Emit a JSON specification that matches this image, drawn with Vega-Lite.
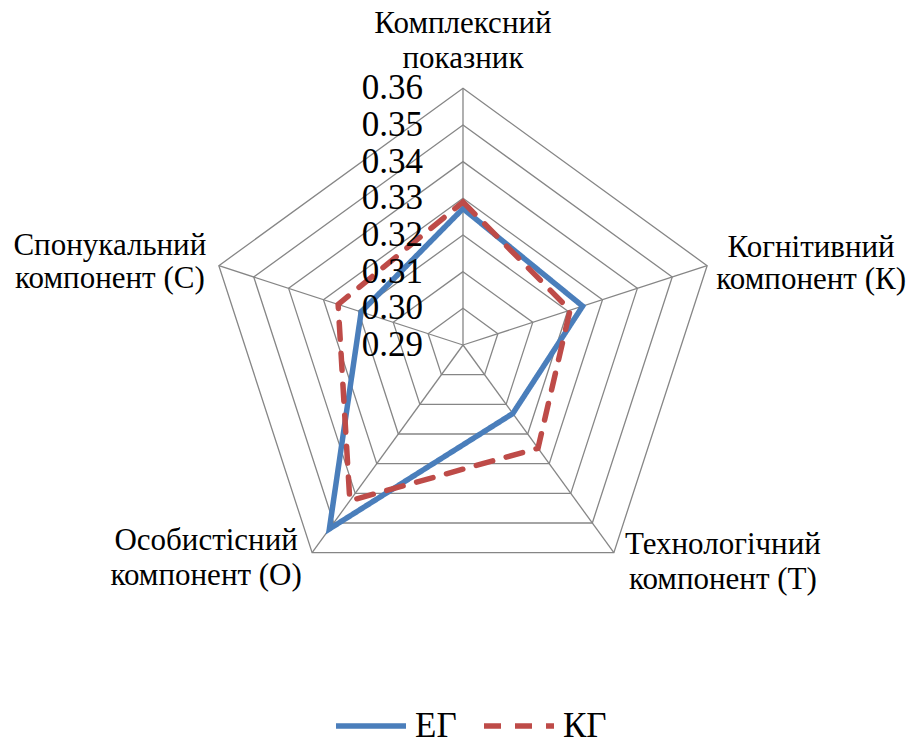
{
  "$schema": "https://vega.github.io/schema/vega-lite/v6.json",
  "width": 914,
  "height": 742,
  "autosize": {"type": "none"},
  "padding": 0,
  "background": "white",
  "config": {"view": {"stroke": null}, "font": "Liberation Serif"},
  "datasets": {
    "series": [
      {"group": "ЕГ", "k": 0, "axis": "Комплексний показник", "value": 0.3272},
      {"group": "ЕГ", "k": 1, "axis": "Когнітивний компонент (К)", "value": 0.3243},
      {"group": "ЕГ", "k": 2, "axis": "Технологічний компонент (Т)", "value": 0.3131},
      {"group": "ЕГ", "k": 3, "axis": "Особистісний компонент (О)", "value": 0.3520},
      {"group": "ЕГ", "k": 4, "axis": "Спонукальний компонент (С)", "value": 0.3192},
      {"group": "КГ", "k": 0, "axis": "Комплексний показник", "value": 0.3290},
      {"group": "КГ", "k": 1, "axis": "Когнітивний компонент (К)", "value": 0.3207},
      {"group": "КГ", "k": 2, "axis": "Технологічний компонент (Т)", "value": 0.3248},
      {"group": "КГ", "k": 3, "axis": "Особистісний компонент (О)", "value": 0.3425},
      {"group": "КГ", "k": 4, "axis": "Спонукальний компонент (С)", "value": 0.3258}
    ],
    "axes": [
      {"k": 0, "label": ["Комплексний", "показник"]},
      {"k": 1, "label": ["Когнітивний", "компонент (К)"]},
      {"k": 2, "label": ["Технологічний", "компонент (Т)"]},
      {"k": 3, "label": ["Особистісний", "компонент (О)"]},
      {"k": 4, "label": ["Спонукальний", "компонент (С)"]}
    ],
    "rings": [
      {"level": 0.30, "k": [0, 1, 2, 3, 4]},
      {"level": 0.31, "k": [0, 1, 2, 3, 4]},
      {"level": 0.32, "k": [0, 1, 2, 3, 4]},
      {"level": 0.33, "k": [0, 1, 2, 3, 4]},
      {"level": 0.34, "k": [0, 1, 2, 3, 4]},
      {"level": 0.35, "k": [0, 1, 2, 3, 4]},
      {"level": 0.36, "k": [0, 1, 2, 3, 4]}
    ],
    "ticks": [
      {"tick": 0.29}, {"tick": 0.30}, {"tick": 0.31}, {"tick": 0.32},
      {"tick": 0.33}, {"tick": 0.34}, {"tick": 0.35}, {"tick": 0.36}
    ]
  },
  "layer": [
    {
      "data": {"name": "rings"},
      "transform": [
        {"flatten": ["k"]},
        {"calculate": "datum.k*2*PI/5", "as": "a"},
        {"calculate": "(datum.level-0.29)*sin(datum.a)", "as": "x"},
        {"calculate": "(datum.level-0.29)*cos(datum.a)", "as": "y"}
      ],
      "mark": {"type": "line", "interpolate": "linear-closed", "stroke": "#868686", "strokeWidth": 1.3},
      "encoding": {
        "x": {"field": "x", "type": "quantitative", "scale": {"domain": [-0.12626, 0.12299], "nice": false, "zero": false}, "axis": null},
        "y": {"field": "y", "type": "quantitative", "scale": {"domain": [-0.10826, 0.09408], "nice": false, "zero": false}, "axis": null},
        "detail": {"field": "level", "type": "nominal"},
        "order": {"field": "k", "type": "quantitative"}
      }
    },
    {
      "data": {"name": "axes"},
      "transform": [
        {"calculate": "datum.k*2*PI/5", "as": "a"},
        {"calculate": "0", "as": "cx"},
        {"calculate": "0", "as": "cy"},
        {"calculate": "0.07*sin(datum.a)", "as": "x"},
        {"calculate": "0.07*cos(datum.a)", "as": "y"}
      ],
      "mark": {"type": "rule", "stroke": "#868686", "strokeWidth": 1.3},
      "encoding": {
        "x": {"field": "cx", "type": "quantitative"},
        "y": {"field": "cy", "type": "quantitative"},
        "x2": {"field": "x"},
        "y2": {"field": "y"}
      }
    },
    {
      "data": {"name": "series"},
      "transform": [
        {"calculate": "datum.k*2*PI/5", "as": "a"},
        {"calculate": "(datum.value-0.29)*sin(datum.a)", "as": "x"},
        {"calculate": "(datum.value-0.29)*cos(datum.a)", "as": "y"}
      ],
      "mark": {"type": "line", "interpolate": "linear-closed", "strokeWidth": 5.5, "strokeCap": "round"},
      "encoding": {
        "x": {"field": "x", "type": "quantitative"},
        "y": {"field": "y", "type": "quantitative"},
        "order": {"field": "k", "type": "quantitative"},
        "color": {
          "field": "group", "type": "nominal",
          "scale": {"domain": ["ЕГ", "КГ"], "range": ["#4A7EBB", "#BE4B48"]},
          "legend": {
            "orient": "none", "legendX": 333, "legendY": 688, "direction": "horizontal",
            "title": null, "symbolType": "stroke", "symbolSize": 4900, "symbolStrokeWidth": 5.5,
            "labelFont": "Liberation Serif", "labelFontSize": 35, "labelColor": "black",
            "labelOffset": 6, "columnPadding": 16
          }
        },
        "strokeDash": {
          "field": "group", "type": "nominal",
          "scale": {"domain": ["ЕГ", "КГ"], "range": [[1, 0], [17, 14]]},
          "legend": {
            "orient": "none", "legendX": 333, "legendY": 688, "direction": "horizontal",
            "title": null, "symbolType": "stroke", "symbolSize": 4900, "symbolStrokeWidth": 5.5,
            "labelFont": "Liberation Serif", "labelFontSize": 35, "labelColor": "black",
            "labelOffset": 6, "columnPadding": 16
          }
        }
      }
    },
    {
      "data": {"name": "ticks"},
      "transform": [
        {"calculate": "0", "as": "x"},
        {"calculate": "datum.tick-0.29", "as": "y"}
      ],
      "mark": {"type": "text", "align": "right", "baseline": "middle", "dx": -40, "fontSize": 35, "font": "Liberation Serif", "color": "black"},
      "encoding": {
        "x": {"field": "x", "type": "quantitative"},
        "y": {"field": "y", "type": "quantitative"},
        "text": {"field": "tick", "type": "quantitative", "format": ".2f"}
      }
    },
    {
      "data": {"name": "axes"},
      "transform": [
        {"filter": "datum.k == 0"},
        {"calculate": "datum.k*2*PI/5", "as": "a"},
        {"calculate": "0.07*sin(datum.a)", "as": "x"},
        {"calculate": "0.07*cos(datum.a)", "as": "y"}
      ],
      "mark": {"type": "text", "align": "center", "baseline": "alphabetic", "dx": 0, "dy": -55, "fontSize": 31, "lineHeight": 35, "font": "Liberation Serif", "color": "black"},
      "encoding": {
        "x": {"field": "x", "type": "quantitative"},
        "y": {"field": "y", "type": "quantitative"},
        "text": {"field": "label"}
      }
    },
    {
      "data": {"name": "axes"},
      "transform": [
        {"filter": "datum.k == 1"},
        {"calculate": "datum.k*2*PI/5", "as": "a"},
        {"calculate": "0.07*sin(datum.a)", "as": "x"},
        {"calculate": "0.07*cos(datum.a)", "as": "y"}
      ],
      "mark": {"type": "text", "align": "center", "baseline": "alphabetic", "dx": 104, "dy": -9, "fontSize": 31, "lineHeight": 32, "font": "Liberation Serif", "color": "black"},
      "encoding": {
        "x": {"field": "x", "type": "quantitative"},
        "y": {"field": "y", "type": "quantitative"},
        "text": {"field": "label"}
      }
    },
    {
      "data": {"name": "axes"},
      "transform": [
        {"filter": "datum.k == 2"},
        {"calculate": "datum.k*2*PI/5", "as": "a"},
        {"calculate": "0.07*sin(datum.a)", "as": "x"},
        {"calculate": "0.07*cos(datum.a)", "as": "y"}
      ],
      "mark": {"type": "text", "align": "center", "baseline": "alphabetic", "dx": 109, "dy": 1, "fontSize": 31, "lineHeight": 35, "font": "Liberation Serif", "color": "black"},
      "encoding": {
        "x": {"field": "x", "type": "quantitative"},
        "y": {"field": "y", "type": "quantitative"},
        "text": {"field": "label"}
      }
    },
    {
      "data": {"name": "axes"},
      "transform": [
        {"filter": "datum.k == 3"},
        {"calculate": "datum.k*2*PI/5", "as": "a"},
        {"calculate": "0.07*sin(datum.a)", "as": "x"},
        {"calculate": "0.07*cos(datum.a)", "as": "y"}
      ],
      "mark": {"type": "text", "align": "center", "baseline": "alphabetic", "dx": -106, "dy": -3, "fontSize": 31, "lineHeight": 35, "font": "Liberation Serif", "color": "black"},
      "encoding": {
        "x": {"field": "x", "type": "quantitative"},
        "y": {"field": "y", "type": "quantitative"},
        "text": {"field": "label"}
      }
    },
    {
      "data": {"name": "axes"},
      "transform": [
        {"filter": "datum.k == 4"},
        {"calculate": "datum.k*2*PI/5", "as": "a"},
        {"calculate": "0.07*sin(datum.a)", "as": "x"},
        {"calculate": "0.07*cos(datum.a)", "as": "y"}
      ],
      "mark": {"type": "text", "align": "center", "baseline": "alphabetic", "dx": -109, "dy": -11, "fontSize": 31, "lineHeight": 33, "font": "Liberation Serif", "color": "black"},
      "encoding": {
        "x": {"field": "x", "type": "quantitative"},
        "y": {"field": "y", "type": "quantitative"},
        "text": {"field": "label"}
      }
    }
  ]
}
